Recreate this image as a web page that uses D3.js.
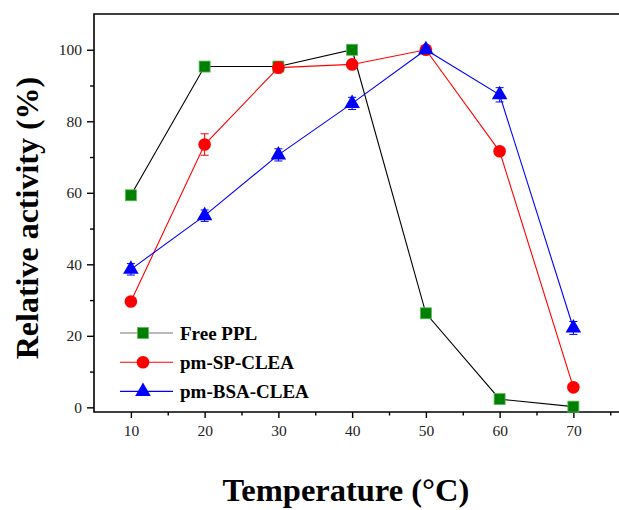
<!DOCTYPE html>
<html>
<head>
<meta charset="utf-8">
<script src="https://cdn.jsdelivr.net/npm/d3@7"></script>
<style>
  body { margin: 0; background: #fff; }
  svg { display: block; }
  text { font-family: "Liberation Serif", "Times New Roman", serif; }
</style>
</head>
<body>
<svg id="chart" width="619" height="510"></svg>
<script>
// temperatures (°C)
const temps = [10, 20, 30, 40, 50, 60, 70];

// relative activity (%)
const freePPL = [59.3, 95.3, 95.3, 100, 26.3, 2.3, 0.2];
const freePPLErr = [0.5, 0.5, 0.5, 0.5, 0.5, 0.5, 0.5];
const spClea = [29.6, 73.5, 95, 95.9, 100, 71.6, 5.6];
const spCleaErr = [0.5, 3, 1.5, 0.8, 0.5, 0.8, 0.5];
const bsaClea = [38.6, 53.6, 70.6, 85, 100, 87.4, 22.2];
const bsaCleaErr = [1.6, 1.6, 1.7, 1.7, 0.8, 2, 1.8];

const xTicks = [10, 20, 30, 40, 50, 60, 70];
const xMinor = [15, 25, 35, 45, 55, 65, 75];
const yTicks = [0, 20, 40, 60, 80, 100];
const yMinor = [10, 30, 50, 70, 90];

const series = [
  { name: "Free PPL", values: freePPL, err: freePPLErr, line: "#000", legendLine: "#777", fill: "#008000", stroke: "#5cb85c", shape: "square" },
  { name: "pm-SP-CLEA", values: spClea, err: spCleaErr, line: "#ff0000", legendLine: "#ff0000", fill: "#ff0000", stroke: "#ff0000", shape: "circle" },
  { name: "pm-BSA-CLEA", values: bsaClea, err: bsaCleaErr, line: "#0000ff", legendLine: "#0000ff", fill: "#0000ff", stroke: "#0000ff", shape: "triangle" }
];

const svg = d3.select("#chart");

const x = d3.scaleLinear().domain([5, 77]).range([94, 625]);
const y = d3.scaleLinear().domain([-1.3, 110]).range([412, 14]);

// frame (right side falls outside the picture)
svg.append("path")
  .attr("d", `M${x(77) + 5},${y(110)}H${x(5)}V${y(-1.3)}H${x(77) + 5}`)
  .attr("fill", "none")
  .attr("stroke", "#000")
  .attr("stroke-width", 1.6);

// x axis
const xAxis = svg.append("g").attr("transform", `translate(0,${y(-1.3)})`);
xAxis.call(d3.axisBottom(x).tickValues(xTicks).tickSize(6).tickPadding(7))
  .call(g => g.select(".domain").remove());
xAxis.selectAll(".tick line").attr("stroke-width", 1.4);
xAxis.selectAll(".tick text").attr("font-size", 15.5).attr("fill", "#222");
const xMinorG = svg.append("g").attr("transform", `translate(0,${y(-1.3)})`);
xMinorG.call(d3.axisBottom(x).tickValues(xMinor).tickSize(3.5).tickFormat(""))
  .call(g => g.select(".domain").remove());
xMinorG.selectAll(".tick line").attr("stroke-width", 1.4);

// y axis
const yAxis = svg.append("g").attr("transform", `translate(${x(5)},0)`);
yAxis.call(d3.axisLeft(y).tickValues(yTicks).tickSize(7).tickPadding(5))
  .call(g => g.select(".domain").remove());
yAxis.selectAll(".tick line").attr("stroke-width", 1.4);
yAxis.selectAll(".tick text").attr("font-size", 15.5).attr("fill", "#222");
const yMinorG = svg.append("g").attr("transform", `translate(${x(5)},0)`);
yMinorG.call(d3.axisLeft(y).tickValues(yMinor).tickSize(4).tickFormat(""))
  .call(g => g.select(".domain").remove());
yMinorG.selectAll(".tick line").attr("stroke-width", 1.4);

// axis titles
svg.append("text")
  .attr("transform", `translate(38,218) rotate(-90)`)
  .attr("text-anchor", "middle")
  .attr("font-size", 32)
  .attr("font-weight", "bold")
  .text("Relative activity (%)");

svg.append("text")
  .attr("x", 346)
  .attr("y", 501)
  .attr("text-anchor", "middle")
  .attr("font-size", 32.5)
  .attr("font-weight", "bold")
  .text("Temperature (°C)");

const triangle = d3.symbol().type(d3.symbolTriangle).size(105);

function drawMarker(g, s) {
  if (s.shape === "square") {
    g.append("rect").attr("x", -5.5).attr("y", -5.5).attr("width", 11).attr("height", 11)
      .attr("fill", s.fill).attr("stroke", s.stroke).attr("stroke-width", 0.8);
  } else if (s.shape === "circle") {
    g.append("circle").attr("r", 6.3).attr("fill", s.fill);
  } else {
    g.append("path").attr("d", triangle).attr("fill", s.fill);
  }
}

const line = d3.line().x((d, i) => x(temps[i])).y(d => y(d));

series.forEach(s => {
  const g = svg.append("g");

  g.append("path")
    .datum(s.values)
    .attr("d", line)
    .attr("fill", "none")
    .attr("stroke", s.line)
    .attr("stroke-width", 1.1);

  // error bars
  const eb = g.append("g").attr("stroke", s.line).attr("stroke-width", 1);
  s.values.forEach((v, i) => {
    const cx = x(temps[i]);
    const y0 = y(v - s.err[i]);
    const y1 = y(v + s.err[i]);
    eb.append("line").attr("x1", cx).attr("x2", cx).attr("y1", y0).attr("y2", y1);
    eb.append("line").attr("x1", cx - 4).attr("x2", cx + 4).attr("y1", y0).attr("y2", y0);
    eb.append("line").attr("x1", cx - 4).attr("x2", cx + 4).attr("y1", y1).attr("y2", y1);
  });

  g.selectAll("g.pt")
    .data(s.values)
    .join("g")
    .attr("class", "pt")
    .attr("transform", (d, i) => `translate(${x(temps[i])},${y(d)})`)
    .each(function () { drawMarker(d3.select(this), s); });
});

// legend
const legend = svg.append("g").attr("transform", "translate(120,333)");
series.forEach((s, i) => {
  const row = legend.append("g").attr("transform", `translate(0,${i * 29.2})`);
  row.append("line").attr("x1", 0).attr("x2", 53).attr("y1", 0).attr("y2", 0)
    .attr("stroke", s.legendLine).attr("stroke-width", 1.1);
  const m = row.append("g").attr("transform", "translate(23,0)");
  drawMarker(m, s);
  row.append("text")
    .attr("x", 60)
    .attr("y", 6.5)
    .attr("font-size", 19)
    .attr("font-weight", "bold")
    .text(s.name);
});
</script>
</body>
</html>
